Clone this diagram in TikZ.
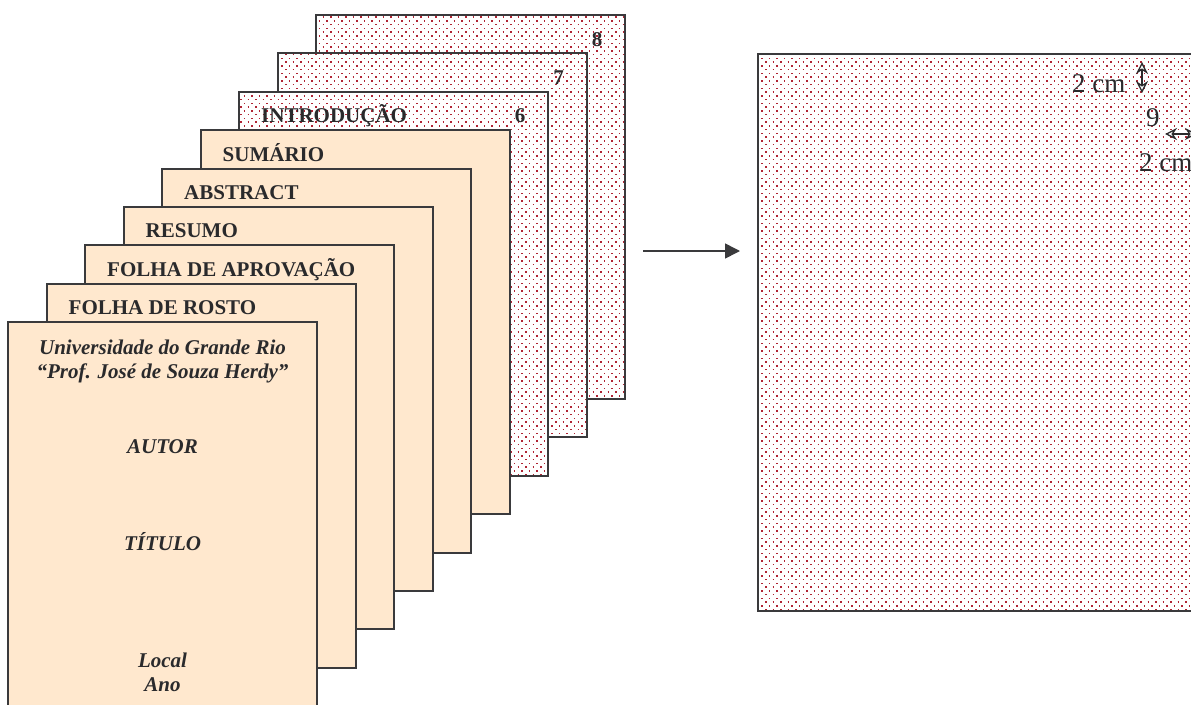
\documentclass[tikz,border=0pt]{standalone}
\usepackage{fontspec}
\setmainfont{Liberation Serif}
\usetikzlibrary{arrows.meta}
\definecolor{peach}{RGB}{255,232,206}
\definecolor{edge}{RGB}{58,58,60}
\definecolor{dotred}{RGB}{176,36,52}
\definecolor{ink}{RGB}{42,42,44}
\newcommand\reddotsin[1]{%
  \begin{scope}
    \clip (#1.north west) rectangle (#1.south east);
    \foreach \i in {0,...,190} {
      \pgfmathsetmacro\ph{mod(\i,2)*3.75}
      \draw[dotrow, dash phase=\ph pt] (0,{2+\i*3.75}) -- (1260,{2+\i*3.75});
    }
  \end{scope}
  \draw[border] (#1.north west) rectangle (#1.south east);
}
\begin{document}
\begin{tikzpicture}[x=1pt,y=-1pt,
  border/.style={draw=edge, line width=2pt},
  page/.style={border, anchor=north west, minimum width=309pt, minimum height=384pt, inner sep=0pt, outer sep=0pt},
  plainpage/.style={page, fill=peach},
  dotpage/.style={page, fill=white},
  dotrow/.style={draw=dotred, line width=1.5pt, dash pattern=on 1.5pt off 6pt},
  lbl/.style={font=\fontsize{21}{24}\selectfont\bfseries, text=ink, anchor=base west, inner sep=0pt},
  num/.style={font=\fontsize{21}{24}\selectfont\bfseries, text=ink, anchor=base, inner sep=0pt},
  cover/.style={font=\fontsize{21}{24}\selectfont\bfseries\itshape, text=ink, anchor=base, inner sep=0pt},
  meas/.style={font=\fontsize{27}{30}\selectfont, text=ink, anchor=base west, inner sep=0pt},
  dimhead/.tip={Stealth[open,length=12pt,width=12pt,inset=4pt]},
  dim/.style={draw=ink, line width=1.3pt, dimhead-dimhead},
  link/.style={draw=edge, line width=1.6pt, -{Triangle[length=15pt,width=15pt]}}
]
\useasboundingbox (0,0) rectangle (1191,704);
\clip (0,0) rectangle (1191,704);

% stack of pages, back to front
\node[dotpage] (p9) at (316,15) {};
\reddotsin{p9}
\node[num] (n8) at ([shift={(-28,31)}]p9.north east) {8};
\node[dotpage] (p8) at (277.5,53.4) {};
\reddotsin{p8}
\node[num] (n7) at ([shift={(-28,31)}]p8.north east) {7};
\node[dotpage] (p7) at (239,91.75) {};
\reddotsin{p7}
\node[num] (n6) at ([shift={(-28,31)}]p7.north east) {6};
\node[lbl] (t7) at ([shift={(22,31)}]p7.north west) {INTRODUÇÃO};
\node[plainpage] (p6) at (200.5,130.1) {};
\node[lbl] (t6) at ([shift={(22,31)}]p6.north west) {SUMÁRIO};
\node[plainpage] (p5) at (162,168.5) {};
\node[lbl] (t5) at ([shift={(22,31)}]p5.north west) {ABSTRACT};
\node[plainpage] (p4) at (123.5,206.9) {};
\node[lbl] (t4) at ([shift={(22,31)}]p4.north west) {RESUMO};
\node[plainpage] (p3) at (85,245.25) {};
\node[lbl] (t3) at ([shift={(22,31)}]p3.north west) {FOLHA DE APROVAÇÃO};
\node[plainpage] (p2) at (46.5,283.6) {};
\node[lbl] (t2) at ([shift={(22,31)}]p2.north west) {FOLHA DE ROSTO};
\node[plainpage] (p1) at (8,322) {};
\node[cover] (c1) at (162.5,354) {Universidade do Grande Rio};
\node[cover] (c2) at (162.5,378) {“Prof. José de Souza Herdy”};
\node[cover] (c3) at (162.5,453) {AUTOR};
\node[cover] (c4) at (162.5,550) {TÍTULO};
\node[cover] (c5) at (162.5,667) {Local};
\node[cover] (c6) at (162.5,691) {Ano};

% big page
\node[dotpage, minimum width=500pt, minimum height=557pt] (big) at (758,54) {};
\reddotsin{big}
\node[meas] (m1) at (1072,92) {2 cm};
\coordinate (v1) at (1142,62);
\coordinate (v2) at (1142,93);
\draw[dim] (v1) -- (v2);
\node[meas] (m9) at (1146,126) {9};
\coordinate (h1) at (1165,134);
\coordinate (h2) at (1197,134);
\draw[dim] (h1) -- (h2);
\node[meas] (m2) at (1139,171) {2 cm};

% connector
\coordinate (a1) at (643,251);
\coordinate (a2) at (740,251);
\draw[link] (a1) -- (a2);
\end{tikzpicture}
\end{document}
